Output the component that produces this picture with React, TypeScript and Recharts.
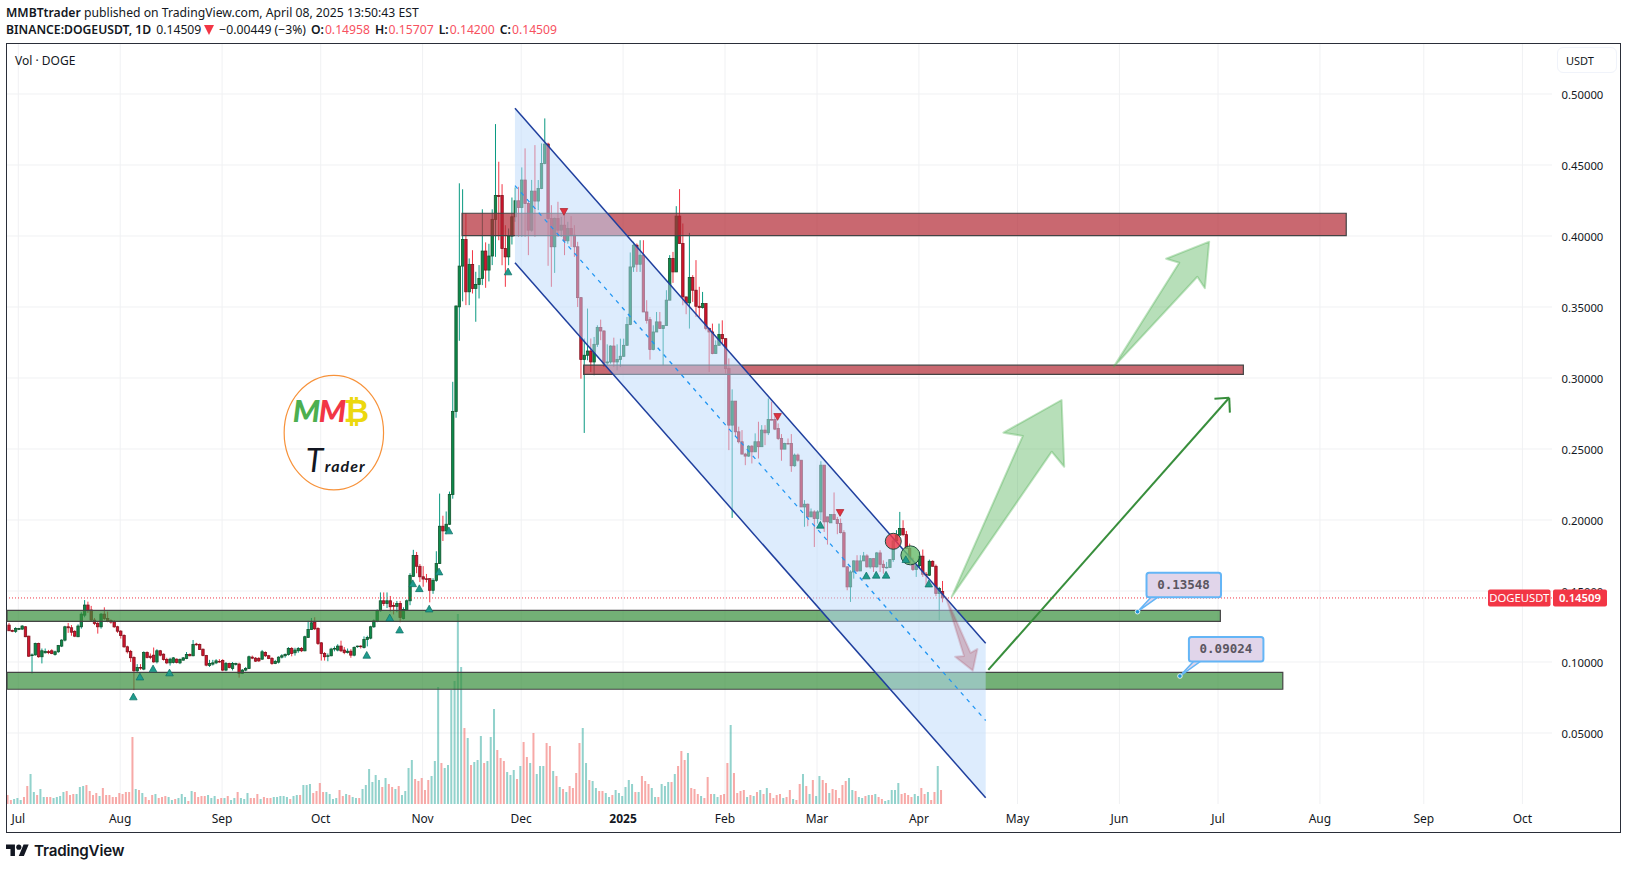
import React from 'react';
import {
  ComposedChart, Bar, XAxis, YAxis,
  ReferenceArea, ReferenceLine, ReferenceDot,
} from 'recharts';

const WIDTH = 1628;
const HEIGHT = 869;
const FONT = '"Noto Sans", sans-serif';

// day 0 is 1 Jul 2024, candles start three days earlier
const firstDay = -3;
const opens = [
  .1260,.1222,.1216,.1230,.1232,.1248,.1182,.1045,.1050,.1131,.1037,.1065,.1073,.1079,.1053,.1072,.1112,.1154,.1248,.1241,.1215,.1178,.1248,.1330,.1401,.1366,.1295,.1272,.1248,.1337,.1307,.1293,.1283,.1248,.1217,.1187,.1107,.1074,
  .1032,.0938,.0961,.0950,.1067,.1041,.1048,.1001,.1079,.1055,.1018,.0994,.0997,.1020,.0994,.1013,.1025,.1053,.1044,.1126,.1123,.1090,.1046,.0975,.0985,.0994,.1004,.1011,.0943,.0990,.0955,.0983,
  .0985,.0919,.0943,.0954,.1034,.1027,.1025,.1020,.1067,.1044,.1025,.0990,.0999,.1034,.1044,.1053,.1095,.1065,.1079,.1095,.1079,.1173,.1229,.1281,.1236,.1135,.1060,.1041,.1044,.1091,
  .1084,.1112,.1084,.1067,.1076,.1048,.1108,.1112,.1102,.1159,.1168,.1248,.1286,.1361,.1431,.1412,.1431,.1398,.1392,.1412,.1307,.1366,.1431,.1603,.1750,.1674,.1600,.1586,.1587,.1505,
  .1575,.1693,.1956,.1923,.1970,.2179,.2764,.3501,.3788,.3976,.3607,.3800,.3631,.3659,.3701,.3894,.3760,.3859,.4117,.4285,.4285,.3912,.3853,.3999,.4135,.4248,.4200,.4394,.4229,.4041,
  .4316,.4246,.4335,.4511,.4647,.4123,.3924,.4123,.4041,.4076,.3966,.4053,.4006,.3924,.3566,.3130,.3160,.3190,.3113,.3237,.3355,.3331,.3106,.3113,.3225,.3113,.3130,.3153,.3230,.3376,
  .3782,.3935,.3801,.3865,.3465,.3411,.3200,.3324,.3395,.3348,.3369,.3548,.3841,.3747,.4140,.3947,.3571,.3529,.3707,.3618,.3505,.3496,.3524,.3348,.3324,.3172,.3230,.3306,.3277,.3068,
  .2668,.2837,.2621,.2551,.2464,.2450,.2520,.2480,.2551,.2516,.2633,.2614,.2708,.2708,.2645,.2574,.2499,.2539,.2539,.2382,.2457,.2421,.2092,.2111,.2022,.2057,.2010,.2057,.2386,.2022,
  .1980,.2038,.2003,.1975,.1911,.1670,.1529,.1634,.1712,.1641,.1712,.1747,.1670,.1728,.1670,.1768,.1688,.1665,.1665,.1721,.1853,.1893,.1940,.1897,.1799,.1693,.1651,.1678,.1745,.1618,
  .1611,.1709,.1674,.1482,.14958,
];
const highs = [
  .1275,.1228,.1245,.1240,.1260,.1253,.1185,.1060,.1136,.1136,.1095,.1095,.1085,.1090,.1080,.1120,.1160,.1255,.1275,.1260,.1225,.1265,.1350,.1436,.1425,.1395,.1310,.1285,.1345,.1385,.1355,.1300,.1295,.1255,.1225,.1195,.1115,.1085,
  .1040,.0985,.0985,.1075,.1075,.1060,.1102,.1090,.1085,.1060,.1030,.1030,.1035,.1025,.1025,.1035,.1070,.1060,.1155,.1135,.1130,.1095,.1050,.1015,.1015,.1020,.1020,.1020,.1000,.0995,.1000,.0995,
  .0995,.0950,.0965,.1045,.1045,.1035,.1035,.1085,.1075,.1050,.1035,.1015,.1040,.1055,.1060,.1105,.1105,.1100,.1105,.1105,.1185,.1290,.1310,.1315,.1245,.1140,.1070,.1060,.1100,.1110,
  .1125,.1150,.1105,.1095,.1090,.1110,.1115,.1118,.1180,.1185,.1255,.1300,.1370,.1490,.1490,.1490,.1465,.1420,.1430,.1430,.1385,.1440,.1625,.1790,.1775,.1690,.1675,.1620,.1590,.1590,
  .1780,.2186,.2030,.2060,.2200,.2973,.3510,.4371,.4329,.4160,.3842,.3900,.3748,.3795,.4188,.3955,.3945,.4188,.4788,.4523,.4365,.4076,.4053,.4271,.4342,.4346,.4483,.4617,.4240,.4395,
  .4640,.4394,.4652,.4828,.4657,.4217,.4130,.4241,.4135,.4147,.4100,.4140,.4076,.3959,.3570,.3278,.3489,.3278,.3289,.3371,.3411,.3336,.3237,.3230,.3284,.3237,.3277,.3277,.3430,.3884,
  .3959,.3947,.3970,.3970,.3548,.3430,.3371,.3465,.3465,.3369,.3618,.3865,.3888,.4210,.4330,.4088,.3571,.4022,.3724,.3830,.3642,.3606,.3524,.3355,.3383,.3265,.3383,.3406,.3277,.3138,
  .2920,.2837,.2657,.2633,.2473,.2527,.2527,.2610,.2692,.2668,.2668,.2856,.2833,.2739,.2680,.2605,.2544,.2574,.2605,.2468,.2468,.2421,.2140,.2116,.2081,.2069,.2069,.2414,.2386,.2022,
  .2038,.2194,.2022,.2010,.1928,.1674,.1646,.1716,.1752,.1752,.1775,.1759,.1728,.1728,.1775,.1787,.1716,.1705,.1721,.1869,.1928,.2057,.1998,.1923,.1834,.1735,.1693,.1775,.1792,.1634,
  .1721,.1716,.1686,.1529,.15707,
];
const lows = [
  .1220,.1210,.1205,.1225,.1225,.1175,.1035,.0919,.1045,.1030,.0990,.1060,.1055,.1055,.1045,.1065,.1105,.1145,.1205,.1185,.1175,.1175,.1235,.1315,.1345,.1285,.1260,.1200,.1235,.1295,.1280,.1270,.1240,.1205,.1165,.1100,.1060,.1000,
  .0802,.0925,.0945,.0942,.1025,.1020,.0995,.0990,.1040,.1010,.0985,.0975,.0990,.0990,.0985,.1010,.1020,.1040,.1040,.1115,.1085,.1040,.0970,.0965,.0975,.0985,.0995,.0935,.0935,.0955,.0940,.0975,
  .0890,.0915,.0935,.0950,.1020,.1000,.1000,.1015,.1035,.1020,.0980,.0985,.0990,.1025,.1030,.1045,.1040,.1045,.1065,.1070,.1075,.1170,.1225,.1225,.1120,.1010,.1010,.1005,.1040,.1075,
  .1075,.1070,.1055,.1060,.1030,.1040,.1100,.1095,.1095,.1110,.1160,.1240,.1280,.1355,.1395,.1380,.1355,.1335,.1350,.1280,.1300,.1360,.1400,.1600,.1625,.1563,.1530,.1560,.1420,.1480,
  .1565,.1690,.1852,.1900,.1965,.2150,.2720,.3262,.3540,.3513,.3513,.3595,.3396,.3560,.3654,.3635,.3680,.3795,.3853,.3970,.3794,.3642,.3794,.3940,.4100,.3994,.3994,.3994,.3865,.4030,
  .3994,.4182,.4330,.4505,.3790,.3642,.3740,.3994,.3994,.3865,.3945,.3923,.3853,.3500,.2995,.2613,.3125,.3042,.3019,.3219,.3266,.3078,.3089,.3101,.3077,.3054,.3077,.3148,.3230,.3372,
  .3747,.3747,.3747,.3465,.3383,.3129,.3195,.3324,.3348,.3089,.3369,.3548,.3670,.3747,.3947,.3512,.3449,.3348,.3536,.3430,.3430,.3489,.3336,.3042,.3167,.3172,.3230,.3242,.3031,.2492,
  .2015,.2586,.2539,.2464,.2386,.2445,.2398,.2480,.2433,.2516,.2527,.2598,.2703,.2633,.2563,.2417,.2499,.2534,.2339,.2375,.2410,.2092,.1952,.1956,.2022,.1810,.1975,.1998,.1916,.1827,
  .1980,.2003,.1900,.1905,.1670,.1505,.1423,.1587,.1634,.1641,.1712,.1665,.1658,.1634,.1665,.1634,.1622,.1658,.1665,.1705,.1853,.1893,.1886,.1799,.1693,.1641,.1599,.1658,.1599,.1540,
  .1606,.1674,.1463,.1294,.14200,
];
const closes = [
  .1220,.1216,.1236,.1236,.1253,.1178,.1041,.1050,.1131,.1037,.1079,.1075,.1066,.1060,.1072,.1116,.1154,.1248,.1241,.1210,.1182,.1253,.1337,.1401,.1361,.1295,.1272,.1248,.1337,.1307,.1288,.1281,.1248,.1217,.1187,.1107,.1072,.1030,
  .0938,.0961,.0957,.1067,.1032,.1032,.1001,.1079,.1048,.1018,.0994,.1020,.1029,.0997,.1018,.1029,.1053,.1044,.1123,.1121,.1088,.1046,.0978,.0990,.0994,.1008,.1003,.0943,.0990,.0961,.0990,.0990,
  .0919,.0943,.0954,.1037,.1027,.1006,.1008,.1072,.1044,.1025,.0990,.1004,.1034,.1044,.1053,.1095,.1060,.1084,.1095,.1079,.1178,.1229,.1276,.1234,.1131,.1060,.1037,.1044,.1091,.1095,
  .1112,.1079,.1067,.1076,.1048,.1102,.1112,.1110,.1159,.1173,.1248,.1290,.1361,.1431,.1412,.1431,.1389,.1392,.1412,.1314,.1370,.1431,.1610,.1750,.1674,.1600,.1584,.1584,.1505,.1575,
  .1693,.1956,.1923,.1970,.2179,.2764,.3507,.3788,.3976,.3607,.3800,.3631,.3659,.3701,.3894,.3760,.3859,.4117,.4285,.4278,.3912,.3853,.3999,.4135,.4248,.4200,.4394,.4229,.4041,.4316,
  .4246,.4335,.4511,.4647,.4123,.3924,.4123,.4041,.4076,.3966,.4053,.4006,.3924,.3566,.3130,.3160,.3190,.3113,.3237,.3355,.3331,.3106,.3113,.3225,.3113,.3130,.3153,.3230,.3376,.3782,
  .3935,.3801,.3865,.3465,.3406,.3200,.3324,.3395,.3348,.3369,.3548,.3841,.3747,.4140,.3947,.3571,.3529,.3707,.3618,.3505,.3496,.3524,.3348,.3324,.3172,.3230,.3306,.3277,.3066,.2668,
  .2837,.2621,.2551,.2464,.2450,.2520,.2480,.2551,.2516,.2633,.2614,.2708,.2703,.2640,.2574,.2499,.2539,.2535,.2382,.2457,.2421,.2092,.2111,.2022,.2057,.2010,.2057,.2386,.1987,.1987,
  .2038,.2003,.1975,.1911,.1670,.1529,.1634,.1712,.1641,.1712,.1747,.1670,.1728,.1670,.1768,.1688,.1665,.1667,.1721,.1853,.1893,.1940,.1897,.1799,.1693,.1651,.1678,.1745,.1618,.1611,
  .1709,.1674,.1482,.1517,.14509,
];
const volumes = [
  9,4,5,6,4,7,18,30,12,9,15,7,7,7,6,7,8,12,13,9,10,10,17,18,19,13,9,11,8,16,9,9,7,7,11,10,12,12,
  67,15,14,11,7,4,9,10,6,7,8,7,4,5,6,10,7,3,13,12,7,8,8,9,6,8,5,6,6,8,4,6,
  12,6,5,11,6,6,10,5,7,6,6,7,7,8,8,7,5,8,9,9,19,19,20,11,13,21,12,12,10,5,
  6,14,8,10,9,7,6,6,15,19,35,22,29,24,17,26,20,17,15,18,9,13,36,44,25,23,26,14,24,28,
  43,117,41,36,39,114,123,190,137,76,66,39,42,44,68,41,43,67,95,54,46,43,32,29,34,25,38,62,47,41,
  71,30,38,38,61,58,33,28,17,15,12,18,16,31,61,76,41,24,23,16,13,13,11,7,9,14,11,8,17,24,
  20,12,12,28,23,20,16,7,7,20,18,22,22,30,38,53,44,51,16,15,10,8,6,27,10,10,7,9,10,41,
  79,31,11,13,14,7,9,8,12,14,10,16,11,6,9,10,6,7,14,5,4,20,30,18,10,24,8,28,24,21,
  11,15,14,6,19,23,26,14,13,7,6,8,9,9,10,7,5,3,4,14,14,21,10,11,9,7,10,8,16,10,
  12,4,12,38,14,
];

const rows = closes.map((close, i) => ({
  day: firstDay + i,
  open: opens[i],
  close,
  range: [lows[i], highs[i]],
  volume: volumes[i],
}));

const monthDays = [0, 31, 62, 92, 123, 153, 184, 215, 243, 274, 304, 335, 365, 396, 427.6, 457.6];
const monthLabels = ['Jul', 'Aug', 'Sep', 'Oct', 'Nov', 'Dec', '2025', 'Feb', 'Mar', 'Apr', 'May', 'Jun', 'Jul', 'Aug', 'Sep', 'Oct'];
const priceTicks = [0.05, 0.1, 0.15, 0.2, 0.25, 0.3, 0.35, 0.4, 0.45, 0.5];
const lastPrice = 0.14509;
const dayDomain: [number, number] = [-3.44, 466.6];
const priceDomain: [number, number] = [0, 0.5352];

// zones: [from day, to day, lower price, upper price]
const redZones = [[135, 404, 0.4002, 0.416], [172, 372.7, 0.3025, 0.309]];
const greenZones = [[-3.44, 365.7, 0.1286, 0.1364], [-3.44, 384.7, 0.0808, 0.0927]];

// drawings as [day, price]
const channelUpper = [[151.1, 0.4899], [294.3, 0.1132]];
const channelMiddle = [[151.1, 0.4355], [294.3, 0.0588]];
const channelLower = [[151.1, 0.3812], [294.3, 0.0044]];
const bigArrow = [[284, 0.146], [305.6, 0.2592], [299.7, 0.2615], [317.4, 0.2845], [318.2, 0.2375], [314.4, 0.2481]];
const topArrow = [[333.3, 0.308], [353.2, 0.3812], [349.2, 0.384], [362.3, 0.396], [361, 0.3632], [358.7, 0.3713]];
const downArrow = [[282.2, 0.1456], [287.7, 0.1042], [285, 0.1037], [290.4, 0.0939], [291.8, 0.1092], [289.7, 0.1065]];
const longArrow = [[295.1, 0.0944], [368.4, 0.2861]];
const longArrowHeadA = [[363.9, 0.2854], [368.4, 0.2861]];
const longArrowHeadB = [[368.6, 0.2756], [368.4, 0.2861]];

const upMarks = [[35, 0.0756], [37, 0.0896], [41, 0.0953], [46, 0.0925], [106, 0.1049], [113, 0.1312], [116, 0.1227], [120, 0.1553], [122, 0.1518], [125, 0.1375], [128, 0.1636], [131, 0.1925], [149, 0.3749], [244, 0.1965], [258, 0.1608], [261, 0.1613], [264, 0.1613], [270, 0.1723], [277, 0.1551]];
const downMarks = [[166, 0.4171], [231, 0.2727], [250, 0.2051]];

const callouts = [
  { day: 340.5, price: 0.1354, text: '0.13548' },
  { day: 353.4, price: 0.0901, text: '0.09024' },
];
const logoSpot = [96, 0.2615];

const CandleShape = (props: any) => {
  const { x, y, width, height, payload } = props;
  const cx = x + width / 2;
  const [low, high] = payload.range;
  const toY = (v: number) => y + ((high - v) / (high - low)) * height;
  const up = payload.close >= payload.open;
  const top = toY(Math.max(payload.open, payload.close));
  const bottom = toY(Math.min(payload.open, payload.close));
  return (
    <g>
      <line x1={cx} x2={cx} y1={y} y2={y + height} stroke={up ? '#089981' : '#f23645'} strokeWidth={1} />
      <rect
        x={cx - 1.2}
        y={top}
        width={2.4}
        height={Math.max(bottom - top, 0.6)}
        fill={up ? '#0b8a4a' : '#d2142c'}
        stroke={up ? '#14532d' : '#7f1420'}
        strokeWidth={0.8}
      />
    </g>
  );
};

const VolumeShape = (props: any) => {
  const { x, y, width, height, payload } = props;
  const up = payload.close >= payload.open;
  return (
    <rect
      x={x + width / 2 - 1}
      y={y}
      width={2}
      height={height}
      fill={up ? '#26a69a' : '#ef5350'}
      fillOpacity={0.5}
    />
  );
};

const polygon = (key: string, points: number[][], style: any, zIndex: number) => {
  const days = points.map((p) => p[0]);
  const prices = points.map((p) => p[1]);
  const minDay = Math.min(...days);
  const maxDay = Math.max(...days);
  const minPrice = Math.min(...prices);
  const maxPrice = Math.max(...prices);
  return (
    <ReferenceArea
      key={key}
      x1={minDay}
      x2={maxDay}
      y1={minPrice}
      y2={maxPrice}
      zIndex={zIndex}
      shape={(box: any) => (
        <polygon
          points={points
            .map(([d, p]) => {
              const px = box.x + ((d - minDay) / (maxDay - minDay)) * box.width;
              const py = box.y + ((maxPrice - p) / (maxPrice - minPrice)) * box.height;
              return `${px},${py}`;
            })
            .join(' ')}
          strokeLinejoin="round"
          {...style}
        />
      )}
    />
  );
};

const segment = (points: number[][]) =>
  points.map(([x, y]) => ({ x, y })) as any;

const triangle = (up: boolean) => (props: any) => {
  const { cx, cy } = props;
  const d = up
    ? `M${cx - 3.8},${cy + 3.2} L${cx},${cy - 3.6} L${cx + 3.8},${cy + 3.2} Z`
    : `M${cx - 3.8},${cy - 3.2} L${cx},${cy + 3.6} L${cx + 3.8},${cy - 3.2} Z`;
  return <path d={d} fill={up ? '#1f9b8c' : '#e0313f'} stroke={up ? '#0f6f64' : '#a81f2b'} strokeWidth={0.7} />;
};

const CalloutShape = (text: string) => (props: any) => {
  const { cx, cy } = props;
  return (
    <g>
      <path d={`M${cx},${cy} L${cx + 14},${cy - 15} L${cx + 21},${cy - 15} Z`} fill="#e1d5ea" stroke="#64b5f6" strokeWidth={1.5} />
      <rect x={cx + 9} y={cy - 39} width={74.5} height={24.5} rx={2.5} fill="#e1d5ea" stroke="#64b5f6" strokeWidth={2} />
      <text x={cx + 46} y={cy - 26.5} textAnchor="middle" dominantBaseline="middle" fontFamily='"DejaVu Sans Mono", monospace' fontWeight={700} fontSize={12.5} fill="#5a5560">
        {text}
      </text>
      <circle cx={cx} cy={cy} r={2.3} fill="#2196d8" stroke="#fff" strokeWidth={0.8} />
    </g>
  );
};

const LogoShape = (props: any) => {
  const { cx, cy } = props;
  const logoFont = 'Lato, sans-serif';
  return (
    <g>
      <ellipse cx={cx} cy={cy} rx={49.7} ry={57.3} fill="#fff" fillOpacity={0} stroke="#f7923a" strokeWidth={1.2} />
      <text x={cx - 41} y={cy - 11} fontFamily={logoFont} fontStyle="italic" fontWeight={900} fontSize={31} fill="#4caf50">M</text>
      <text x={cx - 15} y={cy - 11} fontFamily={logoFont} fontStyle="italic" fontWeight={900} fontSize={31} fill="#f23645">M</text>
      <text x={cx + 10} y={cy - 11} fontFamily='"DejaVu Sans", sans-serif' fontWeight={700} fontSize={31} fill="#ecd80f">₿</text>
      <text x={cx - 28} y={cy + 39} fontFamily={logoFont} fontStyle="italic" fontSize={32} fill="#131722">T</text>
      <text x={cx - 9} y={cy + 39} fontFamily={logoFont} fontStyle="italic" fontWeight={700} fontSize={16} letterSpacing={1} fill="#131722">rader</text>
    </g>
  );
};

const PriceTagShape = (props: any) => {
  const { cx, cy } = props;
  return (
    <g fontFamily={FONT} fontSize={11.3}>
      <rect x={cx - 64} y={cy - 8.5} width={62.5} height={17} rx={2} fill="#f23645" />
      <rect x={cx + 1} y={cy - 8.5} width={54} height={17} rx={2} fill="#f23645" />
      <text x={cx - 32.7} y={cy} textAnchor="middle" dominantBaseline="central" fill="#fff">DOGEUSDT</text>
      <text x={cx + 28} y={cy} textAnchor="middle" dominantBaseline="central" fill="#fff" fontWeight={600}>0.14509</text>
    </g>
  );
};

const MonthTick = (props: any) => {
  const { x, y, index } = props;
  const label = monthLabels[index];
  return (
    <text x={x} y={y + 8} textAnchor="middle" dominantBaseline="middle" fontFamily={FONT} fontSize={12} fontWeight={label === '2025' ? 700 : 400} fill="#131722">
      {label}
    </text>
  );
};

const PriceTick = (props: any) => {
  const { x, y, payload } = props;
  return (
    <text x={x} y={y + 0.8} dominantBaseline="central" fontFamily={FONT} fontSize={11.3} fill="#131722">
      {payload.value.toFixed(5)}
    </text>
  );
};

const Header = () => {
  const label = { fontWeight: 600, marginLeft: 5 };
  const value = { color: '#f7525f', marginLeft: 1 };
  return (
    <div style={{ position: 'absolute', left: 6, top: 4, fontFamily: FONT, fontSize: 12.2, lineHeight: '17px', color: '#131722', whiteSpace: 'nowrap' }}>
      <div>
        <b style={{ fontWeight: 600 }}>MMBTtrader</b> published on TradingView.com, April 08, 2025 13:50:43 EST
      </div>
      <div>
        <b style={{ fontWeight: 600 }}>BINANCE:DOGEUSDT, 1D</b>
        <span style={{ marginLeft: 5 }}>0.14509</span>
        <svg width={10} height={10} viewBox="0 0 10 10" style={{ marginLeft: 3, marginRight: 5, verticalAlign: -1 }}>
          <path d="M0 0H10L5 10Z" fill="#f23645" />
        </svg>
        <span>−0.00449 (−3%)</span>
        <b style={label}>O:</b><span style={value}>0.14958</span>
        <b style={label}>H:</b><span style={value}>0.15707</span>
        <b style={label}>L:</b><span style={value}>0.14200</span>
        <b style={label}>C:</b><span style={value}>0.14509</span>
      </div>
    </div>
  );
};

const Footer = () => (
  <div style={{ position: 'absolute', left: 6, top: 841, display: 'flex', alignItems: 'center', color: '#131722' }}>
    <svg width={23} height={18} viewBox="0 0 36 28" fill="#131722">
      <path d="M14 22H7V11H0V4h14v18zM28 22h-8l7.5-18h8L28 22z" />
      <circle cx="20" cy="8" r="4" />
    </svg>
    <span style={{ marginLeft: 5, fontFamily: 'Inter, sans-serif', fontWeight: 600, fontSize: 15.2, letterSpacing: -0.2 }}>TradingView</span>
  </div>
);

export default function App() {
  const bullArrow = { fill: '#4caf50', fillOpacity: 0.4, stroke: '#4caf50', strokeOpacity: 0.35, strokeWidth: 2 };
  const bearArrow = { fill: '#a83a50', fillOpacity: 0.3, stroke: '#a83a50', strokeOpacity: 0.2, strokeWidth: 2 };
  return (
    <div style={{ position: 'absolute', left: 0, top: 0, width: WIDTH, height: HEIGHT, background: '#fff', overflow: 'hidden' }}>
      <Header />
      <div style={{ position: 'absolute', left: 6, top: 43, width: 1613, height: 788, border: '1px solid #2a2e39' }} />
      <ComposedChart
        width={WIDTH}
        height={HEIGHT}
        data={rows}
        margin={{ top: 44, right: 8, bottom: 37, left: 7 }}
        style={{ position: 'absolute', left: 0, top: 0 }}
      >
        <XAxis
          dataKey="day"
          type="number"
          domain={dayDomain}
          allowDataOverflow
          ticks={monthDays}
          interval={0}
          height={28}
          axisLine={false}
          tickLine={false}
          tick={<MonthTick />}
        />
        <YAxis
          orientation="right"
          type="number"
          domain={priceDomain}
          allowDataOverflow
          ticks={priceTicks}
          interval={0}
          width={68}
          axisLine={false}
          tickLine={false}
          tickMargin={3.5}
          tick={<PriceTick />}
        />
        <YAxis yAxisId="vol" hide domain={[0, 760]} allowDataOverflow />

        {/* grid as reference lines, only at the month and price ticks */}
        {monthDays.map((d) => (
          <ReferenceLine key={`gx${d}`} x={d} stroke="#f0f1f3" zIndex={-100} />
        ))}
        {priceTicks.map((p) => (
          <ReferenceLine key={`gy${p}`} y={p} stroke="#f0f1f3" zIndex={-100} />
        ))}

        <Bar yAxisId="vol" dataKey="volume" barSize={3} shape={VolumeShape} isAnimationActive={false} />
        <Bar dataKey="range" barSize={3} shape={CandleShape} isAnimationActive={false} />

        {redZones.map((z, i) => (
          <ReferenceArea key={`red${i}`} x1={z[0]} x2={z[1]} y1={z[2]} y2={z[3]} fill="#b22833" fillOpacity={0.7} stroke="#444" strokeWidth={1.2} zIndex={310} />
        ))}
        {greenZones.map((z, i) => (
          <ReferenceArea key={`green${i}`} x1={z[0]} x2={z[1]} y1={z[2]} y2={z[3]} fill="#388e3c" fillOpacity={0.7} stroke="#444" strokeWidth={1.2} zIndex={310} />
        ))}
        <ReferenceLine y={lastPrice} stroke="#f23645" strokeWidth={1} strokeDasharray="1 2" zIndex={320} />
        {polygon('channel', [channelUpper[0], channelUpper[1], channelLower[1], channelLower[0]], { fill: '#bbd9fb', fillOpacity: 0.5 }, 330)}
        <ReferenceLine segment={segment(channelMiddle)} stroke="#2196f3" strokeWidth={1.3} strokeDasharray="4 5" zIndex={340} />
        <ReferenceLine segment={segment(channelUpper)} stroke="#1f3f9e" strokeWidth={1.5} zIndex={340} />
        <ReferenceLine segment={segment(channelLower)} stroke="#1f3f9e" strokeWidth={1.5} zIndex={340} />
        {polygon('big', bigArrow, bullArrow, 350)}
        {polygon('top', topArrow, bullArrow, 350)}
        {polygon('down', downArrow, bearArrow, 350)}
        <ReferenceLine segment={segment(longArrow)} stroke="#388e3c" strokeWidth={2} zIndex={350} />
        <ReferenceLine segment={segment(longArrowHeadA)} stroke="#388e3c" strokeWidth={2} zIndex={350} />
        <ReferenceLine segment={segment(longArrowHeadB)} stroke="#388e3c" strokeWidth={2} zIndex={350} />
        <ReferenceDot x={266.2} y={0.185} r={8} fill="#f23645" fillOpacity={0.8} stroke="#1f4a3f" strokeWidth={1} zIndex={360} />
        <ReferenceDot x={271.4} y={0.1751} r={9.5} fill="#66bb6a" fillOpacity={0.8} stroke="#1f4a3f" strokeWidth={1} zIndex={360} />
        {upMarks.map((m, i) => (
          <ReferenceDot key={`up${i}`} x={m[0]} y={m[1]} shape={triangle(true)} zIndex={370} />
        ))}
        {downMarks.map((m, i) => (
          <ReferenceDot key={`down${i}`} x={m[0]} y={m[1]} shape={triangle(false)} zIndex={370} />
        ))}
        {callouts.map((c) => (
          <ReferenceDot key={c.text} x={c.day} y={c.price} shape={CalloutShape(c.text)} zIndex={380} />
        ))}
        <ReferenceDot x={logoSpot[0]} y={logoSpot[1]} shape={LogoShape} zIndex={380} />
      </ComposedChart>
      {/* price tag has to sit on top of the axis labels */}
      <ComposedChart
        width={WIDTH}
        height={HEIGHT}
        data={rows}
        margin={{ top: 44, right: 76, bottom: 65, left: 7 }}
        style={{ position: 'absolute', left: 0, top: 0 }}
      >
        <XAxis dataKey="day" type="number" domain={dayDomain} allowDataOverflow hide />
        <YAxis type="number" domain={priceDomain} allowDataOverflow hide />
        <ReferenceDot x={dayDomain[1]} y={lastPrice} shape={PriceTagShape} ifOverflow="visible" />
      </ComposedChart>
      <div style={{ position: 'absolute', left: 15, top: 52, fontFamily: FONT, fontSize: 12, color: '#131722' }}>Vol · DOGE</div>
      <div style={{ position: 'absolute', left: 1557, top: 47, width: 60, height: 26, boxSizing: 'border-box', border: '1px solid #f0f3fa', borderRadius: 6, fontFamily: FONT, fontSize: 11, lineHeight: '25px', paddingLeft: 8, color: '#131722', background: '#fff' }}>USDT</div>
      <Footer />
    </div>
  );
}
